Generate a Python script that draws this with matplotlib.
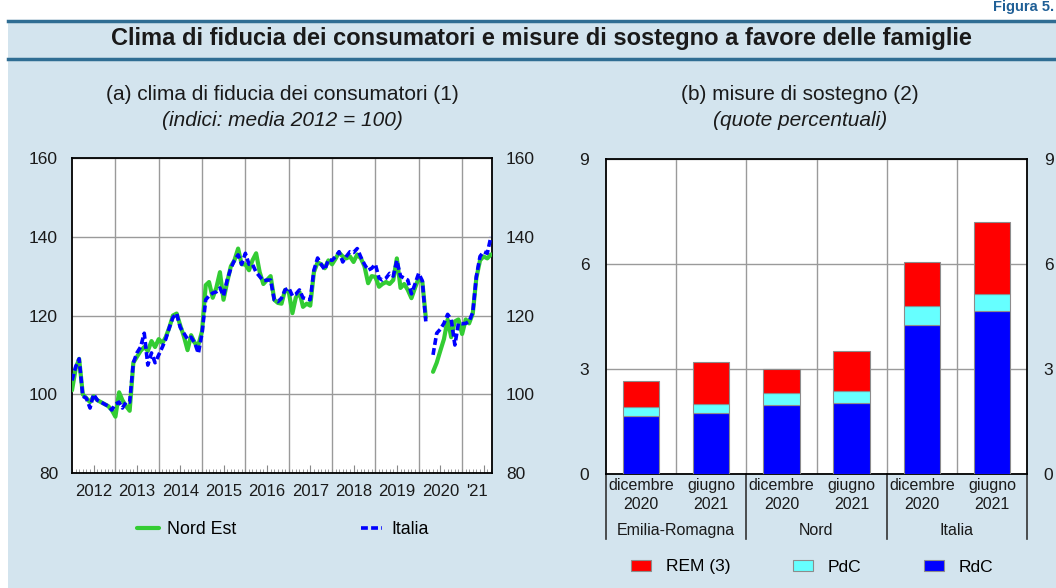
import numpy as np
import pandas as pd
import matplotlib
matplotlib.use("Agg")
import matplotlib.pyplot as plt
import matplotlib.dates as mdates
from matplotlib.patches import Rectangle, Patch
from matplotlib.lines import Line2D

nan = np.nan
# ---------------- data ----------------
italia = [103.5, 107, 109, 99.5, 99, 96.5, 100, 98.5, 98, 97.5, 97, 96,
          97.5, 98, 96.5, 98, 98, 108, 110.5, 112, 115.5, 107.4, 110.5, 108,
          110, 112, 114, 117, 119.5, 120.5, 117, 115.5, 114, 114.5, 113, 110.4,
          115.5, 124, 125, 125.7, 126, 127, 125, 129, 132, 134, 135.4, 133,
          135.8, 133, 133, 131, 129.9, 128.8, 129, 129, 124, 123.5, 124.4, 126.5,
          127, 125, 125.4, 126.5, 124.5, 124.2, 124, 131.5, 134.6, 133, 131.6, 134.2,
          134, 135, 136.2, 133.6, 135, 136.2, 136, 137, 134.8, 133, 131.5, 132,
          133, 129.5, 129, 129.5, 130.7, 130, 134, 130, 129.5, 129, 125.5, 128,
          130.7, 128.8, 118.5, nan, 110, 115.5, 116.5, 118, 120.3, 119, 112.5, 118,
          117.9, 118, 118.5, 120.8, 129.9, 135, 136.2, 135.8, 140]
nord_est = [101, 106.5, 109, 100, 99, 98, 99.5, 98.5, 98, 97.5, 97, 96,
            94.3, 100.5, 98.5, 97, 95.8, 108, 109.5, 111, 112, 111, 113.5, 112,
            114, 113, 114.5, 117, 120, 120.5, 117.5, 114.7, 111.2, 115, 113, 112.5,
            116, 127.7, 128.5, 124.5, 127, 131, 124, 128.5, 132.5, 134, 137, 133,
            133, 131.5, 134, 135.8, 131, 128, 129, 130, 124, 123.2, 123, 126.5,
            126, 120.6, 124.5, 126, 122.2, 123, 122.5, 131, 133.5, 133, 132, 134,
            133, 134.5, 136, 135, 134.5, 135, 133.6, 135.5, 134.5, 132.5, 128.2, 130,
            129.8, 127.3, 128, 128.5, 128, 129, 134.5, 127, 128, 126.5, 124.4, 127,
            129.5, 128.5, 119.5, nan, 105.7, 108, 111, 114, 119, 114.5, 118.5, 119,
            115.3, 119, 118, 120.5, 129.5, 134, 135, 134.5, 135.5]
start_month = "2012-01-01"
year_labels = ["2012", "2013", "2014", "2015", "2016", "2017", "2018", "2019", "2020", "'21"]
left_yticks = [80, 100, 120, 140, 160]

periodi = ["dicembre\n2020", "giugno\n2021"] * 3
gruppi = ["Emilia-Romagna", "Nord", "Italia"]
rdc = [1.65, 1.74, 1.97, 2.03, 4.25, 4.65]
pdc = [0.26, 0.25, 0.34, 0.34, 0.54, 0.48]
rem = [0.74, 1.22, 0.69, 1.15, 1.28, 2.06]
right_yticks = [0, 3, 6, 9]

# ---------------- style ----------------
plt.rcParams['font.family'] = ['Liberation Sans', 'DejaVu Sans']
BG = "#D3E4EE"
LINEC = "#2F6D93"
GRID = "#9A9A9A"
TXT = "#1a1a1a"
W, H = 1056, 588
fig = plt.figure(figsize=(W / 100, H / 100), dpi=100)
fig.patch.set_facecolor("white")

def fx(px):
    return px / W

def fy(py):
    return 1 - py / H

bg = Rectangle((fx(8), 0), 1, fy(20), transform=fig.transFigure,
               facecolor=BG, edgecolor="none", zorder=-10)
fig.add_artist(bg)
for yy in (21, 59):
    fig.add_artist(Line2D([fx(8), 1], [fy(yy), fy(yy)], transform=fig.transFigure,
                          color=LINEC, lw=2.5, zorder=-5))
fig.text(fx(1054), fy(0), "Figura 5.", ha="right", va="top", fontsize=10.5,
         fontweight="bold", color="#1F5F96")
fig.text(fx(541), fy(38), "Clima di fiducia dei consumatori e misure di sostegno a favore delle famiglie",
         ha="center", va="center", fontsize=17, fontweight="bold", color=TXT)

fig.text(fx(282), fy(95), "(a) clima di fiducia dei consumatori (1)", ha="center", va="center",
         fontsize=15, color=TXT)
fig.text(fx(282), fy(120), "(indici: media 2012 = 100)", ha="center", va="center",
         fontsize=15, style="italic", color=TXT)
fig.text(fx(800), fy(95), "(b) misure di sostegno (2)", ha="center", va="center",
         fontsize=15, color=TXT)
fig.text(fx(800), fy(120), "(quote percentuali)", ha="center", va="center",
         fontsize=15, style="italic", color=TXT)

# ---------------- left panel ----------------
axL = fig.add_axes([fx(72), fy(473), fx(492) - fx(72), fy(158) - fy(473)])
axL.set_facecolor("white")
dates = pd.date_range(start_month, periods=len(italia), freq="MS")
axL.plot(dates, nord_est, color="#33CC33", lw=3.0, solid_capstyle="round",
         solid_joinstyle="round", zorder=3, label="Nord Est")
axL.plot(dates, italia, color="#0000FF", lw=2.6, linestyle=(0, (1.9, 0.9)),
         dash_capstyle="butt", zorder=4, label="Italia")
x0 = pd.Timestamp(start_month)
x1 = dates[-1] + pd.Timedelta(days=9)
axL.set_xlim(x0, x1)
axL.set_ylim(left_yticks[0], left_yticks[-1])
axL.set_yticks(left_yticks)
axL.tick_params(axis="y", length=0, labelsize=12.5, pad=10, labelright=True, right=False,
                labelcolor=TXT)
axL.yaxis.grid(True, color=GRID, lw=1)
years = pd.date_range(start_month, dates[-1], freq="YS")
for yd in years[1:]:
    axL.axvline(yd, color=GRID, lw=1, zorder=1)
axL.xaxis.set_major_locator(mdates.MonthLocator(bymonth=7))
axL.xaxis.set_minor_locator(mdates.MonthLocator())
axL.tick_params(axis="x", which="major", direction="in", length=6, color="#888888", labelbottom=False)
axL.tick_params(axis="x", which="minor", direction="in", length=3, color="#888888")
centers = [y + pd.Timedelta(days=182) for y in years[:-1]]
centers.append(years[-1] + (x1 - years[-1]) / 2)
for c, t in zip(centers, year_labels):
    axL.text(c, -0.06, t, transform=axL.get_xaxis_transform(), ha="center", va="center",
             fontsize=12, color=TXT)
for s in axL.spines.values():
    s.set_color("black")
    s.set_linewidth(1.3)
axL.legend(loc="center", bbox_to_anchor=(fx(283), fy(530)), bbox_transform=fig.transFigure,
           ncol=2, frameon=False, fontsize=12.8, handlelength=1.2, handletextpad=0.5,
           columnspacing=7.0)

# ---------------- right panel ----------------
axR = fig.add_axes([fx(606), fy(474), fx(1027) - fx(606), fy(159) - fy(474)])
axR.set_facecolor("white")
xpos = np.arange(len(rdc))
bw = 0.52
rdc_a, pdc_a, rem_a = np.array(rdc), np.array(pdc), np.array(rem)
axR.bar(xpos, rdc_a, bw, color="#0000FF", edgecolor="#8C8C8C", lw=0.8, zorder=3, label="RdC")
axR.bar(xpos, pdc_a, bw, bottom=rdc_a, color="#66FFFF", edgecolor="#8C8C8C", lw=0.8, zorder=3, label="PdC")
axR.bar(xpos, rem_a, bw, bottom=rdc_a + pdc_a, color="#FF0000", edgecolor="#8C8C8C", lw=0.8, zorder=3,
        label="REM (3)")
axR.set_xlim(-0.5, len(rdc) - 0.5)
axR.set_ylim(right_yticks[0], right_yticks[-1])
axR.set_yticks(right_yticks)
axR.tick_params(axis="y", length=0, labelsize=12.5, pad=12, labelright=True, right=False,
                labelcolor=TXT)
axR.yaxis.grid(True, color=GRID, lw=1, zorder=0)
axR.set_xticks([])
for b in np.arange(0.5, len(rdc) - 0.5, 1.0):
    axR.axvline(b, color=GRID, lw=1, zorder=1)
xt = axR.get_xaxis_transform()
for b in [-0.5, 1.5, 3.5, len(rdc) - 0.5]:
    axR.plot([b, b], [0, -65 / 315], transform=xt, color="#333333", lw=1.2, clip_on=False)
for xp, lab in zip(xpos, periodi):
    axR.text(xp, -0.066, lab, transform=xt, ha="center", va="center", fontsize=11.5,
             linespacing=1.35, color=TXT)
for gi, g in enumerate(gruppi):
    axR.text(2 * gi + 0.5, -0.178, g, transform=xt, ha="center", va="center", fontsize=11.5,
             color=TXT)
for s in axR.spines.values():
    s.set_color("black")
    s.set_linewidth(1.3)
handles = [Patch(facecolor="#FF0000", edgecolor="#8C8C8C", lw=0.8, label="REM (3)"),
           Patch(facecolor="#66FFFF", edgecolor="#8C8C8C", lw=0.8, label="PdC"),
           Patch(facecolor="#0000FF", edgecolor="#8C8C8C", lw=0.8, label="RdC")]
axR.legend(handles=handles, loc="center", bbox_to_anchor=(fx(812), fy(567)),
           bbox_transform=fig.transFigure, ncol=3, frameon=False, fontsize=12.5,
           handlelength=1.15, handleheight=0.6, handletextpad=0.85, columnspacing=3.6)

fig.savefig("out.png", dpi=100, facecolor=fig.get_facecolor())
